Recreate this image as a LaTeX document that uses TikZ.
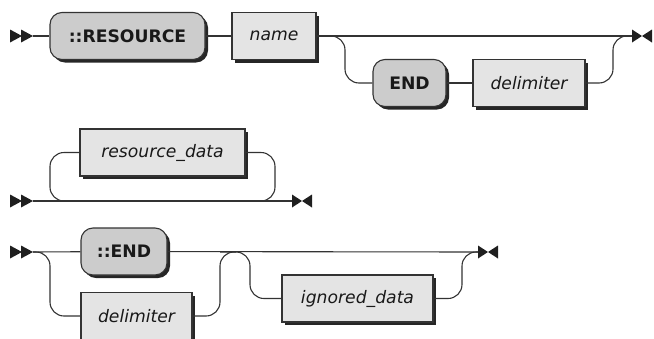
\documentclass[tikz,border=0pt]{standalone}
\usepackage{fontspec}
\setmainfont{DejaVu Sans}
\usetikzlibrary{shadows}
\definecolor{termfill}{HTML}{CCCCCC}
\definecolor{ntfill}{HTML}{E4E4E4}
\definecolor{rail}{HTML}{333333}

\begin{document}
\begin{tikzpicture}[
  x=1pt, y=-1pt,
  font=\fontsize{17.2}{20}\selectfont,
  line width=1.1pt,
  box/.style={draw=rail, minimum height=47pt, inner xsep=6pt, inner ysep=0pt, text=black!90,
              drop shadow={shadow xshift=3pt, shadow yshift=-3pt, fill=black!85, opacity=1}},
  term/.style={box, rounded corners=12pt, fill=termfill, font=\fontsize{17.2}{20}\selectfont\bfseries},
  nterm/.style={box, fill=ntfill, font=\fontsize{17.2}{20}\selectfont\itshape},
  track/.style={draw=rail, rounded corners=14pt},
  startmk/.pic={\fill[black!88] (0,-6.5) -- (12,0) -- (0,6.5) -- cycle
                                (11,-6.5) -- (23,0) -- (11,6.5) -- cycle;},
  endmk/.pic={\fill[black!88] (0,-6.5) -- (10,0) -- (0,6.5) -- cycle
                              (20,-6.5) -- (10,0) -- (20,6.5) -- cycle;},
]
\useasboundingbox (0,0) rectangle (654,338);

% ::RESOURCE name [END delimiter]
\node[term, minimum width=155pt] (res) at (127.5,36) {::RESOURCE};
\node[nterm, minimum width=84pt] (name) at (274,36) {name};
\node[term, minimum width=73pt] (end) at (409.5,83) {END};
\node[nterm, minimum width=112pt] (delim) at (529,83) {delimiter};
\coordinate (s1) at (33,36);
\coordinate (e1) at (632,36);
\coordinate (k1) at (345,36);
\coordinate (k2) at (613,36);
\pic at (10,36) {startmk};
\pic at (e1) {endmk};
\foreach \a/\b in {s1/res,res/name,name/e1,end/delim} \draw[track] (\a) -- (\b);
\draw[track] (name.east) -- (k1) |- (end.west);
\draw[track] (delim.east) -| (k2) -- (e1);

% resource_data loop
\node[nterm, minimum width=165pt] (rdata) at (162.5,152.5) {resource\_data};
\coordinate (s2) at (33,201);
\coordinate (e2) at (292,201);
\coordinate (l2a) at (50,201);
\coordinate (l2b) at (275,201);
\pic at (10,201) {startmk};
\pic at (e2) {endmk};
\draw[track] (s2) -- (e2);
\draw[track] (rdata.west) -| (l2a) -- ++(20,0);
\draw[track] (rdata.east) -| (l2b) -- ++(-20,0);

% (::END | delimiter) [ignored_data]
\node[term, minimum width=86pt] (fin) at (124,251.5) {::END};
\node[nterm, minimum width=111pt] (delim2) at (136.5,316) {delimiter};
\node[nterm, minimum width=151pt] (ign) at (357.5,298.5) {ignored\_data};
\coordinate (s3) at (33,252);
\coordinate (e3) at (478,252);
\coordinate (k3) at (50,252);
\coordinate (k4) at (220,252);
\coordinate (k5) at (250,252);
\coordinate (k6) at (462,252);
\pic at (10,252) {startmk};
\pic at (e3) {endmk};
\foreach \a/\b in {s3/fin,fin/e3} \draw[track] (\a) -- (\b);
\draw[track] (s3) -- (k3) |- (delim2.west);
\draw[track] (delim2.east) -| (k4) -- ++(16,0);
\draw[track] (k4) -- (k5) |- (ign.west);
\draw[track] (ign.east) -| (k6) -- (e3);
\end{tikzpicture}
\end{document}
